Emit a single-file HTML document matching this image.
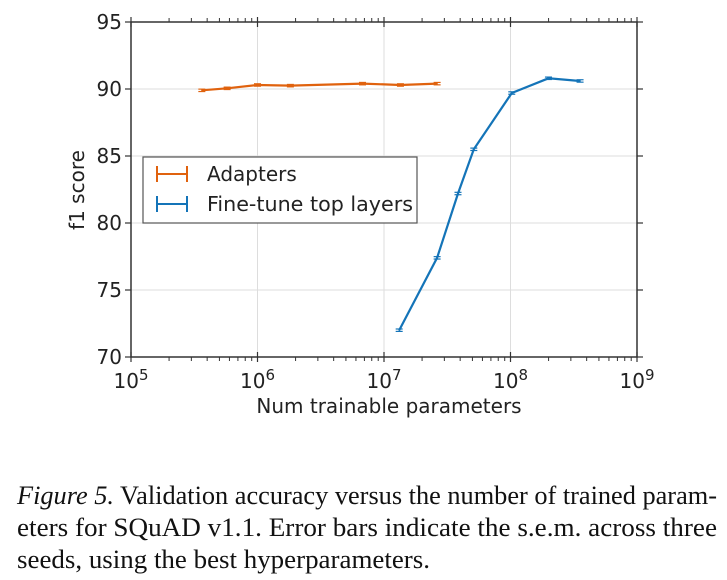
<!DOCTYPE html>
<html><head><meta charset="utf-8"><style>
html,body{margin:0;padding:0;background:#fff;}
svg{display:block;}
</style></head><body>
<svg id="chart" width="727" height="580" xmlns="http://www.w3.org/2000/svg" font-family="'DejaVu Sans', 'Liberation Sans', sans-serif">
<g id="grid"></g>
<g id="axes"></g>
<g id="series"></g>
<g id="legend">
<rect x="143" y="157" width="274" height="66" fill="#fff" stroke="#555" stroke-width="1.2"/>
<g stroke="#e0620e" stroke-width="2">
<line x1="156" y1="174" x2="188" y2="174"/><line x1="157" y1="166" x2="157" y2="182"/><line x1="187" y1="166" x2="187" y2="182"/>
</g>
<text x="207" y="181" font-size="20" fill="#222">Adapters</text>
<g stroke="#1474b8" stroke-width="2">
<line x1="156" y1="204" x2="188" y2="204"/><line x1="157" y1="196" x2="157" y2="212"/><line x1="187" y1="196" x2="187" y2="212"/>
</g>
<text x="207" y="211" font-size="20" fill="#222" textLength="206" lengthAdjust="spacingAndGlyphs">Fine-tune top layers</text>
</g>
<text x="389" y="413" font-size="20" fill="#222" text-anchor="middle">Num trainable parameters</text>
<text transform="translate(84,190) rotate(-90)" font-size="20" fill="#222" text-anchor="middle">f1 score</text>
<g font-family="'Liberation Serif', serif" font-size="26" fill="#111">
<text x="17" y="504" textLength="700" lengthAdjust="spacingAndGlyphs"><tspan font-style="italic">Figure 5.</tspan>  Validation accuracy versus the number of trained param-</text>
<text x="17" y="536" textLength="700" lengthAdjust="spacingAndGlyphs">eters for SQuAD v1.1. Error bars indicate the s.e.m. across three</text>
<text x="17" y="568" textLength="413" lengthAdjust="spacingAndGlyphs">seeds, using the best hyperparameters.</text>
</g>
</svg>
<script>
const adapterLogX = [5.56, 5.76, 6.0, 6.26, 6.83, 7.13, 7.42];
const adapterF1 = [89.9, 90.05, 90.3, 90.25, 90.4, 90.3, 90.4];
const finetuneLogX = [7.12, 7.42, 7.585, 7.71, 8.01, 8.30, 8.55];
const finetuneF1 = [72.0, 77.4, 82.2, 85.5, 89.7, 90.8, 90.6];
const yTicks = [70, 75, 80, 85, 90, 95];
const xDecades = [5, 6, 7, 8, 9];

const NS = 'http://www.w3.org/2000/svg';
const L = 131, R = 637, T = 22, B = 357;
const xs = v => L + (v - 5) / 4 * (R - L);
const ys = v => B - (v - 70) / 25 * (B - T);
function mk(tag, attrs, parent) {
  const e = document.createElementNS(NS, tag);
  for (const k in attrs) e.setAttribute(k, attrs[k]);
  parent.appendChild(e);
  return e;
}
const grid = document.getElementById('grid');
const axes = document.getElementById('axes');
const series = document.getElementById('series');

xDecades.forEach(d => {
  if (d > 5 && d < 9) {
    const g = mk('line', {x1: xs(d), x2: xs(d), y1: T, y2: B, stroke: '#ddd', 'stroke-width': 1}, grid);
    
    
  }
  const t = mk('text', {x: xs(d), y: 388, 'font-size': 20, fill: '#222', 'text-anchor': 'middle'}, axes);
  
  
  t.textContent = '10';
  const s = mk('tspan', {dy: -8, 'font-size': 15}, t);
  s.textContent = d;
  [B, T].forEach(y0 => {
    mk('line', {x1: xs(d), x2: xs(d), y1: y0 - 5, y2: y0 + 5, stroke: '#333', 'stroke-width': 1.2}, axes);
  });
  if (d < 9) {
    for (let m = 2; m <= 9; m++) {
      const x = xs(d + Math.log10(m));
      mk('line', {x1: x, x2: x, y1: B, y2: B + 4, stroke: '#333', 'stroke-width': 1}, axes);
      mk('line', {x1: x, x2: x, y1: T, y2: T - 4, stroke: '#333', 'stroke-width': 1}, axes);
    }
  }
});
yTicks.forEach(v => {
  if (v > 70 && v < 95) {
    const g = mk('line', {x1: L, x2: R, y1: ys(v), y2: ys(v), stroke: '#ddd', 'stroke-width': 1}, grid);
    
    
  }
  mk('line', {x1: L - 6, x2: L, y1: ys(v), y2: ys(v), stroke: '#333', 'stroke-width': 1.2}, axes);
  mk('line', {x1: R, x2: R + 6, y1: ys(v), y2: ys(v), stroke: '#333', 'stroke-width': 1.2}, axes);
  const t = mk('text', {x: L - 9, y: ys(v) + 7, 'font-size': 20, fill: '#222', 'text-anchor': 'end'}, axes);
  
  
  t.textContent = v;
});
const frame = mk('rect', {x: L, y: T, width: R - L, height: B - T, fill: 'none', stroke: '#333', 'stroke-width': 1.5}, axes);



function draw(xv, yv, color, name) {
  const pts = xv.map((x, i) => xs(x).toFixed(1) + ',' + ys(yv[i]).toFixed(1)).join(' ');
  const pl = mk('polyline', {points: pts, fill: 'none', stroke: color, 'stroke-width': 2.2}, series);
  
  
  xv.forEach((x, i) => {
    const cx = xs(x), cy = ys(yv[i]);
    const e = mk('g', {stroke: color, 'stroke-width': 1.2}, series);
    
    
    mk('line', {x1: cx - 3.5, x2: cx + 3.5, y1: cy - 1.2, y2: cy - 1.2}, e);
    mk('line', {x1: cx - 3.5, x2: cx + 3.5, y1: cy + 1.2, y2: cy + 1.2}, e);
    mk('line', {x1: cx, x2: cx, y1: cy - 1.2, y2: cy + 1.2}, e);
  });
}
draw(adapterLogX, adapterF1, '#e0620e', 'adapters');
draw(finetuneLogX, finetuneF1, '#1474b8', 'fine-tune');
</script>
</body></html>
